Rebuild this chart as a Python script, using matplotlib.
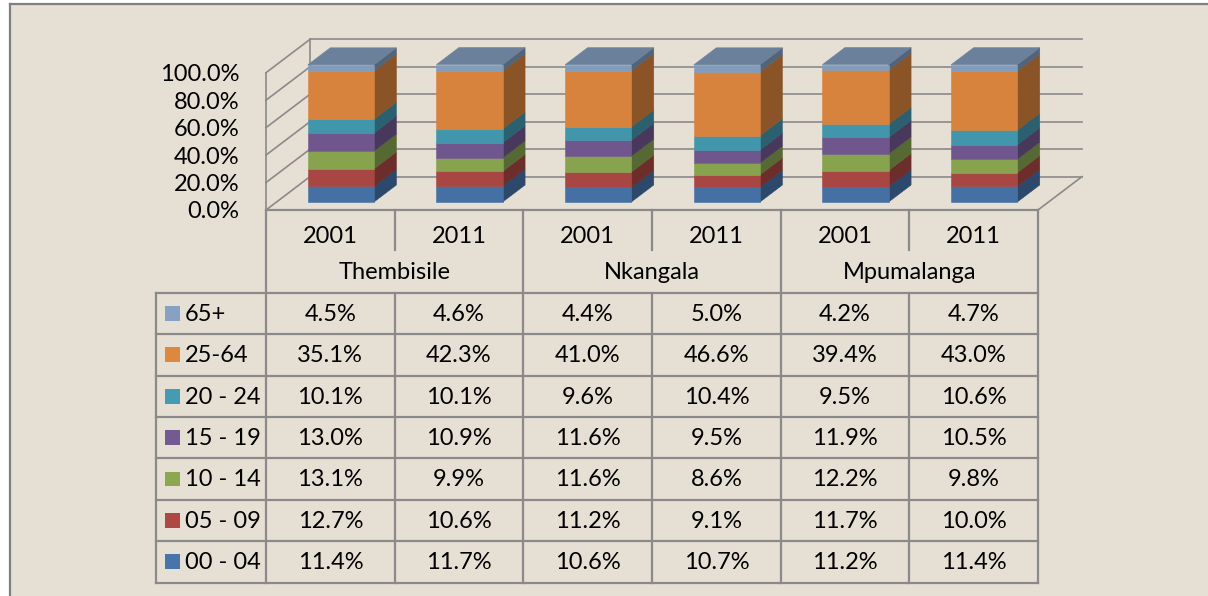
import matplotlib
matplotlib.use("Agg")
import matplotlib.pyplot as plt
from matplotlib.colors import to_rgb
from matplotlib.lines import Line2D
from matplotlib.patches import Polygon, Rectangle

# ---- data -----------------------------------------------------------------
regions = ["Thembisile", "Nkangala", "Mpumalanga"]
years = ["2001", "2011"]
# stacking order, bottom to top
age_groups = ["00 - 04", "05 - 09", "10 - 14", "15 - 19", "20 - 24", "25-64", "65+"]
share_00_04 = [11.4, 11.7, 10.6, 10.7, 11.2, 11.4]
share_05_09 = [12.7, 10.6, 11.2, 9.1, 11.7, 10.0]
share_10_14 = [13.1, 9.9, 11.6, 8.6, 12.2, 9.8]
share_15_19 = [13.0, 10.9, 11.6, 9.5, 11.9, 10.5]
share_20_24 = [10.1, 10.1, 9.6, 10.4, 9.5, 10.6]
share_25_64 = [35.1, 42.3, 41.0, 46.6, 39.4, 43.0]
share_65_up = [4.5, 4.6, 4.4, 5.0, 4.2, 4.7]
y_ticks = [0, 20, 40, 60, 80, 100]

series = [share_00_04, share_05_09, share_10_14, share_15_19,
          share_20_24, share_25_64, share_65_up]
colors = ["#4F81BD", "#C0504D", "#9BBB59", "#8064A2",
          "#4BACC6", "#F79646", "#95B3D7"]

# ---- style ----------------------------------------------------------------
W, H = 1208, 596
BG = "#E6DFD4"
GRID = "#8A8A8A"
plt.rcParams["font.family"] = ["Lato", "DejaVu Sans"]
FS = 17

DEPTH_X = 0.342   # category units per unit depth (oblique projection)
DEPTH_Y = 24.3    # percent units per unit depth
D0, D1 = 0.24, 0.75
HALF_W = 0.257


def shade(c, f):
    return tuple(min(1.0, v * f) for v in to_rgb(c))


def proj(x, y, d):
    return (x + d * DEPTH_X, y + d * DEPTH_Y)


fig = plt.figure(figsize=(W / 100, H / 100), dpi=100, facecolor="white")
# parchment panel with a grey frame on its left and top edges
fig.add_artist(Rectangle((10 / W, 0), 1 - 10 / W, 1 - 4 / H,
                         transform=fig.transFigure, fc=BG, ec="none", zorder=0))
fig.add_artist(Line2D([10 / W, 10 / W], [0, 1 - 4 / H], color="#7F7F7F", lw=1.6))
fig.add_artist(Line2D([10 / W, 1], [1 - 4 / H, 1 - 4 / H], color="#7F7F7F", lw=1.6))

# chart area: front plane x 266..1038 px, y(0%)=210 px, y(100%)=72.7 px
ax = fig.add_axes([266 / W, (H - 210) / H, 772 / W, 137.3 / H])
ax.set_xlim(0, 6)
ax.set_ylim(0, 100)
ax.patch.set_visible(False)
for sp in ax.spines.values():
    sp.set_visible(False)
ax.set_xticks([])
ax.set_yticks(y_ticks)
ax.set_yticklabels([f"{v:.1f}%" for v in y_ticks], fontsize=FS)
ax.tick_params(axis="y", length=0, pad=19)

n = len(share_00_04)
gl = dict(color=GRID, lw=1.2, zorder=1, clip_on=False)
for v in y_ticks:
    # back wall
    (x0, y0), (x1, y1) = proj(0, v, 1), proj(n, v, 1)
    ax.add_line(Line2D([x0, x1], [y0, y1], **gl))
    # side wall
    (x0, y0), (x1, y1) = proj(0, v, 0), proj(0, v, 1)
    ax.add_line(Line2D([x0, x1], [y0, y1], **gl))
for d in (0, 1):
    (x0, y0), (x1, y1) = proj(0, 0, d), proj(0, 100, d)
    ax.add_line(Line2D([x0, x1], [y0, y1], **gl))
(x0, y0), (x1, y1) = proj(n, 0, 0), proj(n, 0, 1)
ax.add_line(Line2D([x0, x1], [y0, y1], **gl))
(x0, y0), (x1, y1) = proj(0, 0, 0), proj(n, 0, 0)
ax.add_line(Line2D([x0, x1], [y0, y1], **gl))

for i in range(n):
    xl, xr = i + 0.5 - HALF_W, i + 0.5 + HALF_W
    bottom = 0.0
    for vals, col in zip(series, colors):
        top = bottom + vals[i]
        side = [proj(xr, bottom, D0), proj(xr, bottom, D1),
                proj(xr, top, D1), proj(xr, top, D0)]
        front = [proj(xl, bottom, D0), proj(xr, bottom, D0),
                 proj(xr, top, D0), proj(xl, top, D0)]
        ax.add_patch(Polygon(side, closed=True, fc=shade(col, 0.56),
                             ec=shade(col, 0.56), lw=0.4, zorder=3, clip_on=False))
        ax.add_patch(Polygon(front, closed=True, fc=shade(col, 0.87),
                             ec=shade(col, 0.87), lw=0.4, zorder=4, clip_on=False))
        bottom = top
    lid = [proj(xl, bottom, D0), proj(xr, bottom, D0),
           proj(xr, bottom, D1), proj(xl, bottom, D1)]
    ax.add_patch(Polygon(lid, closed=True, fc=shade(colors[-1], 0.72),
                         ec=shade(colors[-1], 0.72), lw=0.4, zorder=4, clip_on=False))

# ---- data table -------------------------------------------------------------
LEG_X = -0.855
tax = fig.add_axes([156 / W, (H - 582.5) / H, 882 / W, 372.5 / H])
tax.set_xlim(LEG_X, 6)
tax.set_ylim(9, 0)
tax.axis("off")

tl = dict(color=GRID, lw=1.6, clip_on=False)
tax.add_line(Line2D([0, 6], [0, 0], **tl))
for r in range(2, 10):
    tax.add_line(Line2D([LEG_X, 6], [r, r], **tl))
tax.add_line(Line2D([LEG_X, LEG_X], [2, 9], **tl))
for xv in range(0, 7, 2):
    tax.add_line(Line2D([xv, xv], [0, 9], **tl))
for xv in range(1, 7, 2):
    tax.add_line(Line2D([xv, xv], [0, 0.97], **tl))
    tax.add_line(Line2D([xv, xv], [2, 9], **tl))

for i in range(n):
    tax.text(i + 0.5, 0.64, years[i % 2], ha="center", va="center", fontsize=FS)
for j, name in enumerate(regions):
    tax.text(2 * j + 1, 1.52, name, ha="center", va="center", fontsize=FS)

rows = list(zip(age_groups, series, colors))[::-1]
for r, (label, vals, col) in enumerate(rows):
    yc = 2 + r + 0.5
    tax.add_patch(Rectangle((-0.785, yc - 0.18), 0.117, 0.36, fc=shade(col, 0.9),
                            ec="none", clip_on=False))
    tax.text(-0.63, yc + 0.02, label, ha="left", va="center", fontsize=FS)
    for i, v in enumerate(vals):
        tax.text(i + 0.5, yc + 0.02, f"{v:.1f}%", ha="center", va="center", fontsize=FS)

fig.savefig("out.png", dpi=100, facecolor="white")
